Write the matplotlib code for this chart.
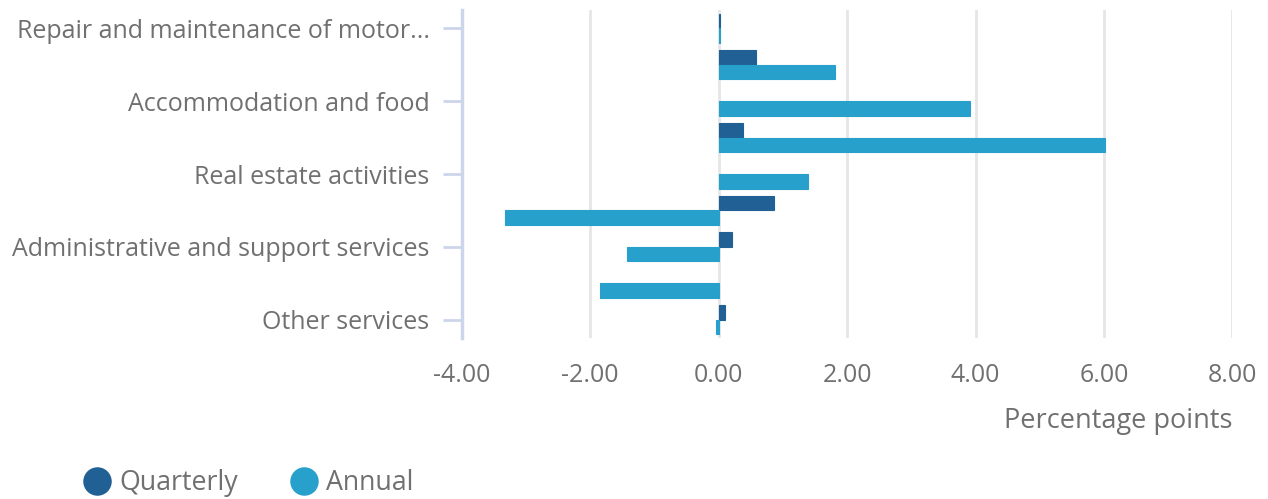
import numpy as np
import matplotlib.pyplot as plt
from matplotlib.lines import Line2D

plt.rcParams['font.family'] = ['Open Sans', 'DejaVu Sans']

# categories (only every second label is shown in the chart)
categories = [
    'Repair and maintenance of motor...', '',
    'Accommodation and food', '',
    'Real estate activities', '',
    'Administrative and support services', '',
    'Other services',
]
quarterly = [0.03, 0.59, np.nan, 0.38, np.nan, 0.87, 0.21, np.nan, 0.10]
annual = [0.03, 1.82, 3.91, 6.02, 1.40, -3.32, -1.43, -1.85, -0.04]
xticks = [-4, -2, 0, 2, 4, 6, 8]

dark = '#206095'
light = '#27a0cc'
text_col = '#707070'
axis_col = '#cdd5eb'
grid_col = '#e6e6e6'

fig = plt.figure(figsize=(12.68, 4.99), dpi=100)
ax = fig.add_axes([0.364, 0.3226, 0.608, 0.6574])

y = np.arange(len(categories))
h = 0.4
ax.barh(y - h / 2, quarterly, height=h, color=dark, edgecolor=dark, linewidth=0.8, zorder=3)
ax.barh(y + h / 2, annual, height=h, color=light, edgecolor=light, linewidth=0.8, zorder=3)

ax.set_xlim(-4, 8)
ax.set_ylim(len(categories) - 0.5, -0.5)
ax.set_xticks(xticks)
ax.set_xticklabels([f'{v:.2f}' for v in xticks])
ax.set_yticks(y[::2])
ax.set_yticklabels(categories[::2])

for s in ['top', 'right', 'bottom']:
    ax.spines[s].set_visible(False)
ax.spines['left'].set_color(axis_col)
ax.spines['left'].set_linewidth(2.5)

ax.grid(axis='x', color=grid_col, linewidth=2, zorder=0)
ax.tick_params(axis='x', length=0, pad=18, labelsize=18, labelcolor=text_col)
ax.tick_params(axis='y', length=14, width=2, color=axis_col, pad=9,
               labelsize=18, labelcolor=text_col)

ax.set_xlabel('Percentage points', fontsize=19.5, color=text_col, loc='right', labelpad=14)

handles = [
    Line2D([], [], marker='o', linestyle='none', markersize=19.5, color=dark, label='Quarterly'),
    Line2D([], [], marker='o', linestyle='none', markersize=19.5, color=light, label='Annual'),
]
fig.legend(handles=handles, loc='center left', bbox_to_anchor=(0.066, 0.032), ncol=2,
           frameon=False, fontsize=19.3, labelcolor=text_col, handlelength=1.0,
           handletextpad=0.33, columnspacing=1.95, borderpad=0, borderaxespad=0)

fig.savefig('out.png', dpi=100)
